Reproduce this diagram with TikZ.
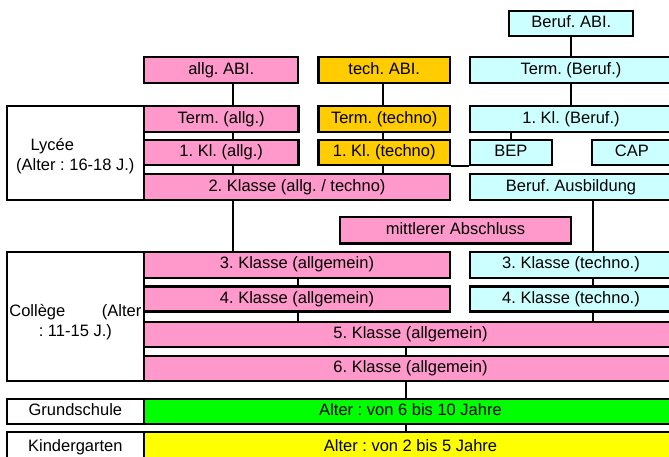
\documentclass[tikz,border=0pt]{standalone}
\usepackage{fontspec}
\setmainfont{Liberation Sans}
\frenchspacing
\definecolor{rosa}{HTML}{FF99CC}
\definecolor{gold}{HTML}{FFCC00}
\definecolor{hellblau}{HTML}{CCFFFF}
\definecolor{gruen}{HTML}{00FF00}
\definecolor{gelb}{HTML}{FFFF00}

\begin{document}
\begin{tikzpicture}[x=1pt,y=-1pt,line width=2.3pt,
        font=\fontsize{16.5}{20}\selectfont,
        stufe/.style={draw,rectangle,inner sep=0pt,text height=12pt,text depth=3.5pt},
        allg/.style={stufe,fill=rosa},
        techno/.style={stufe,fill=gold},
        beruf/.style={stufe,fill=hellblau},
        seite/.style={draw,rectangle,fill=white,inner sep=0pt}]
                    \useasboundingbox (0,0) rectangle (669,457);

                    % Oberstufe
                    \node[beruf,minimum width=124pt,minimum height=25pt] (berufAbi) at (571.3,23.2) {Beruf. ABI.};
                    \node[allg,minimum width=154pt,minimum height=26pt] (allgAbi) at (221.3,70.3) {allg. ABI.};
                    \node[techno,minimum width=131.7pt,minimum height=26pt] (techAbi) at (384.2,70.3) {tech. ABI.};
                    \node[beruf,minimum width=202pt,minimum height=26pt] (termBeruf) at (571,70.3) {Term. (Beruf.)};

                    \node[seite,minimum width=137.3pt,minimum height=94pt] (lycee) at (75.35,153)
                        {\raisebox{-3pt}[\height][\depth]{\parbox{133pt}{\centering\hspace*{-46pt}Lycée\\(Alter : 16-18 J.)}}};
                    \node[allg,minimum width=154.3pt,minimum height=26pt] (termAllg) at (221.2,119) {Term. (allg.)};
                    \node[allg,minimum width=154.3pt,minimum height=25pt] (klAllg) at (221.2,152.5) {1. Kl. (allg.)};
                    \node[techno,minimum width=131.7pt,minimum height=26pt] (termTechno) at (384.2,119) {Term. (techno)};
                    \node[techno,minimum width=131.7pt,minimum height=25pt] (klTechno) at (384.2,152.5) {1. Kl. (techno)};
                    \node[beruf,minimum width=202pt,minimum height=26pt] (klBeruf) at (571,119) {1. Kl. (Beruf.)};
                    \node[beruf,minimum width=81.7pt,minimum height=25pt] (bep) at (510.85,152.5) {BEP};
                    \node[beruf,minimum width=80.3pt,minimum height=25pt] (cap) at (631.85,152.5) {CAP};
                    \node[allg,minimum width=306pt,minimum height=26pt] (zweite) at (297,187) {2. Klasse (allg. / techno)};
                    \node[beruf,minimum width=202pt,minimum height=26pt] (ausbildung) at (571,187) {Beruf. Ausbildung};

                    \node[allg,minimum width=231pt,minimum height=26.3pt] (abschluss) at (455.5,230.2) {mittlerer Abschluss};

                    % College
                    \node[seite,minimum width=137.3pt,minimum height=129pt] (college) at (75.35,316.2)
                        {\raisebox{-6pt}[\height][\depth]{\parbox{132pt}{\centering Collège\hfill(Alter\\: 11-15 J.)}}};
                    \node[allg,minimum width=306pt,minimum height=26pt] (dritteAllg) at (297,264.7) {3. Klasse (allgemein)};
                    \node[allg,minimum width=306pt,minimum height=25pt] (vierteAllg) at (297,299) {4. Klasse (allgemein)};
                    \node[beruf,minimum width=202pt,minimum height=26pt] (dritteTechno) at (571,264.7) {3. Klasse (techno.)};
                    \node[beruf,minimum width=202pt,minimum height=25pt] (vierteTechno) at (571,299) {4. Klasse (techno.)};
                    \node[allg,minimum width=533pt,minimum height=25pt] (fuenfte) at (410.5,334.2) {5. Klasse (allgemein)};
                    \node[allg,minimum width=533pt,minimum height=25pt] (sechste) at (410.5,368.3) {6. Klasse (allgemein)};

                    % Grundschule, Kindergarten
                    \node[seite,stufe,minimum width=137.3pt,minimum height=25pt] (grund) at (75.35,411.5) {Grundschule};
                    \node[stufe,fill=gruen,minimum width=533pt,minimum height=25pt] (grundAlter) at (410.5,411.5) {Alter : von 6 bis 10 Jahre};
                    \node[seite,stufe,minimum width=137.3pt,minimum height=30.3pt] (kinder) at (75.35,446.85) {Kindergarten};
                    \node[stufe,fill=gelb,minimum width=533pt,minimum height=30.3pt] (kinderAlter) at (410.5,446.85) {Alter : von 2 bis 5 Jahre};

                    % Achsen der Verbindungen
                    \coordinate (achseAllg) at (233.3,0);
                    \coordinate (achseTech) at (383.3,0);
                    \coordinate (achseBeruf) at (571,0);
                    \coordinate (achseBep) at (510.7,0);
                    \coordinate (achseAusb) at (592.7,0);
                    \coordinate (achseKl) at (297.7,0);
                    \coordinate (achseBasis) at (406,0);

                    \draw (achseAllg |- allgAbi.south) -- (achseAllg |- termAllg.north);
                    \draw (achseAllg |- termAllg.south) -- (achseAllg |- klAllg.north);
                    \draw (achseAllg |- klAllg.south) -- (achseAllg |- zweite.north);
                    \draw (achseAllg |- zweite.south) -- (achseAllg |- dritteAllg.north);

                    \draw (achseTech |- techAbi.south) -- (achseTech |- termTechno.north);
                    \draw (achseTech |- termTechno.south) -- (achseTech |- klTechno.north);
                    \draw (achseTech |- klTechno.south) -- (achseTech |- zweite.north);
                    \draw (klTechno.south east) -- (bep.south west);

                    \draw (achseBeruf |- berufAbi.south) -- (achseBeruf |- termBeruf.north);
                    \draw (achseBeruf |- termBeruf.south) -- (achseBeruf |- klBeruf.north);
                    \draw (achseBep |- klBeruf.south) -- (achseBep |- bep.north);

                    \draw (achseAusb |- ausbildung.south) -- (achseAusb |- dritteTechno.north);
                    \draw (achseAusb |- dritteTechno.south) -- (achseAusb |- vierteTechno.north);
                    \draw (achseAusb |- vierteTechno.south) -- (achseAusb |- fuenfte.north);

                    \draw (achseKl |- dritteAllg.south) -- (achseKl |- vierteAllg.north);
                    \draw (achseKl |- vierteAllg.south) -- (achseKl |- fuenfte.north);

                    \draw (achseBasis |- fuenfte.south) -- (achseBasis |- sechste.north);
                    \draw (achseBasis |- sechste.south) -- (achseBasis |- grundAlter.north);
                    \draw (achseBasis |- grundAlter.south) -- (achseBasis |- kinderAlter.north);
                \end{tikzpicture}
\end{document}
